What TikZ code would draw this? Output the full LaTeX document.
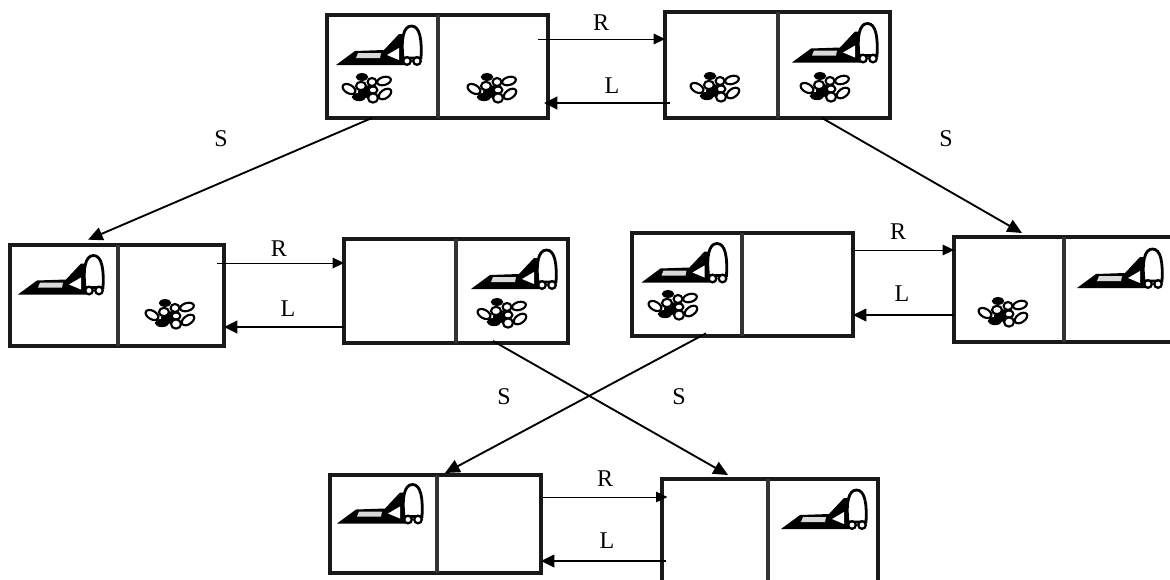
\documentclass[tikz,border=0pt]{standalone}
\usepackage{fontspec}
\setmainfont{Liberation Serif}
\usetikzlibrary{arrows.meta}
\tikzset{
  x=0.75pt,y=-0.75pt,
  state/.style={draw=black!90,line width=2.7pt,rectangle,inner sep=0pt,outer sep=0pt},
  divider/.style={line width=2.4pt,draw=black!80},
  move/.style={draw=black,line width=1.2pt,-{Triangle[length=10pt,width=9.5pt]}},
  movethin/.style={draw=black,line width=0.7pt,-{Triangle[length=8.5pt,width=8pt]}},
  suck/.style={draw=black,line width=1.4pt,-{Triangle[length=11pt,width=10pt]}},
  lab/.style={font=\fontsize{18pt}{20pt}\selectfont,inner sep=0pt,text=black},
  pics/vacuum/.style={code={
    \fill[black] (-43,19) -- (-24,5) -- (5,4) -- (20,-12) -- (26,-12) -- (26,19) -- cycle;
    \fill[black!15] (-21,7) -- (2,7) -- (1,12) -- (-23,12) -- cycle;
    \fill[white] (8,9) -- (20,2) -- (20,14) -- cycle;
    \draw[black,line width=2.1pt,fill=white] (24,12) .. controls (22,-6) and (24,-20) .. (32.5,-20)
       .. controls (41,-20) and (43,-6) .. (42,12) -- cycle;
    \draw[black,line width=1.7pt,fill=white] (28,15) circle[radius=3.8];
    \draw[black,line width=1.7pt,fill=white] (38,15) circle[radius=3.8];
  }},
  blob/.style={draw=black,line width=1.6pt,fill=white},
  pics/dirt/.style={code={
    \fill[black] (-9,3) -- (-3,-4) -- (6,0) -- (9,8) -- (-8,11) -- cycle;
    \draw[blob,rotate around={-30:(-18,1)}] (-18,1) ellipse[x radius=7,y radius=4.2];
    \draw[blob] (-6,-2) ellipse[x radius=5,y radius=4.2];
    \draw[blob,fill=black] (-5,-11) ellipse[x radius=5,y radius=3];
    \draw[blob] (5,-6) ellipse[x radius=4.4,y radius=4];
    \draw[blob,rotate around={15:(17,-7)}] (17,-7) ellipse[x radius=7,y radius=4];
    \draw[blob,fill=black] (-8,9) ellipse[x radius=6,y radius=3];
    \draw[blob] (6,2) ellipse[x radius=4.4,y radius=3.6];
    \draw[blob] (6,10) ellipse[x radius=5,y radius=4.6];
    \draw[blob,rotate around={35:(18,6)}] (18,6) ellipse[x radius=7,y radius=4.2];
  }},
}
\newcommand{\statebox}[6]{%
  \pgfmathsetmacro{\cx}{(#2+#4)/2}\pgfmathsetmacro{\cy}{(#3+#5)/2}%
  \pgfmathsetmacro{\bw}{(#4-#2)*0.75}\pgfmathsetmacro{\bh}{(#5-#3)*0.75}%
  \node[state,minimum width=\bw pt,minimum height=\bh pt] (#1) at (\cx,\cy) {};
  \draw[divider] (#6,#3) -- (#6,#5);
}
\begin{document}
\begin{tikzpicture}
\useasboundingbox (0,0) rectangle (1170,579);
\statebox{a}{327}{15}{548}{118}{438}
\statebox{b}{665}{12}{890}{118}{778}
\statebox{c}{10}{245}{224}{346}{118}
\statebox{d}{344}{239}{568}{343}{456}
\statebox{e}{632}{233}{853}{336}{742}
\statebox{f}{954}{237}{1172}{342}{1064}
\statebox{g}{330}{475}{541}{573}{437}
\statebox{h}{662}{479}{878}{585}{768}
% glyphs
\pic at (379,46) {vacuum};
\pic at (835,43.5) {vacuum};
\pic at (61,275.5) {vacuum};
\pic at (514,270) {vacuum};
\pic at (684.5,263.5) {vacuum};
\pic at (1120,269) {vacuum};
\pic at (380,504.5) {vacuum};
\pic at (824,510) {vacuum};
\pic at (367,88) {dirt};
\pic at (492,88) {dirt};
\pic at (715,87) {dirt};
\pic at (825,87) {dirt};
\pic at (170,314) {dirt};
\pic at (502,313) {dirt};
\pic at (673,305) {dirt};
\pic at (1003,312) {dirt};
% connectors
\draw[movethin] ([xshift=-7.5pt]a.east |- 0,39) -- (b.west |- 0,39);
\draw[move] ([xshift=3.75pt]b.west |- 0,103) -- ([xshift=-3pt]a.east |- 0,103);
\draw[movethin] ([xshift=-5.25pt]c.east |- 0,263) -- (d.west |- 0,263);
\draw[move] (d.west |- 0,327) -- (c.east |- 0,327);
\draw[movethin] (e.east |- 0,250) -- (f.west |- 0,250);
\draw[move] (f.west |- 0,315) -- (e.east |- 0,315);
\draw[movethin] (g.east |- 0,497) -- ([xshift=4pt]h.west |- 0,497);
\draw[move] ([xshift=3pt]h.west |- 0,561) -- (g.east |- 0,561);
\draw[suck] (a.south -| 372,0) -- ([yshift=4pt]c.north -| 88,0);
\draw[suck] (b.south -| 822,0) -- ([yshift=3pt]f.north -| 1022,0);
\draw[suck] ([yshift=1.5pt]d.south -| 493,0) -- ([yshift=3pt]h.north -| 728,0);
\draw[suck] ([yshift=2pt]e.south -| 706,0) -- ([yshift=1.5pt]g.north -| 445,0);
% labels
\node[lab] (r1) at (601,23) {R};
\node[lab] (l1) at (612,86) {L};
\node[lab] (s1) at (221,139) {S};
\node[lab] (s2) at (946,139) {S};
\node[lab] (r2) at (279,249) {R};
\node[lab] (l2) at (288,309) {L};
\node[lab] (r3) at (898,232) {R};
\node[lab] (l3) at (902,294) {L};
\node[lab] (s3) at (504,397) {S};
\node[lab] (s4) at (679,397) {S};
\node[lab] (r4) at (605,479) {R};
\node[lab] (l4) at (607,541) {L};
\end{tikzpicture}
\end{document}
